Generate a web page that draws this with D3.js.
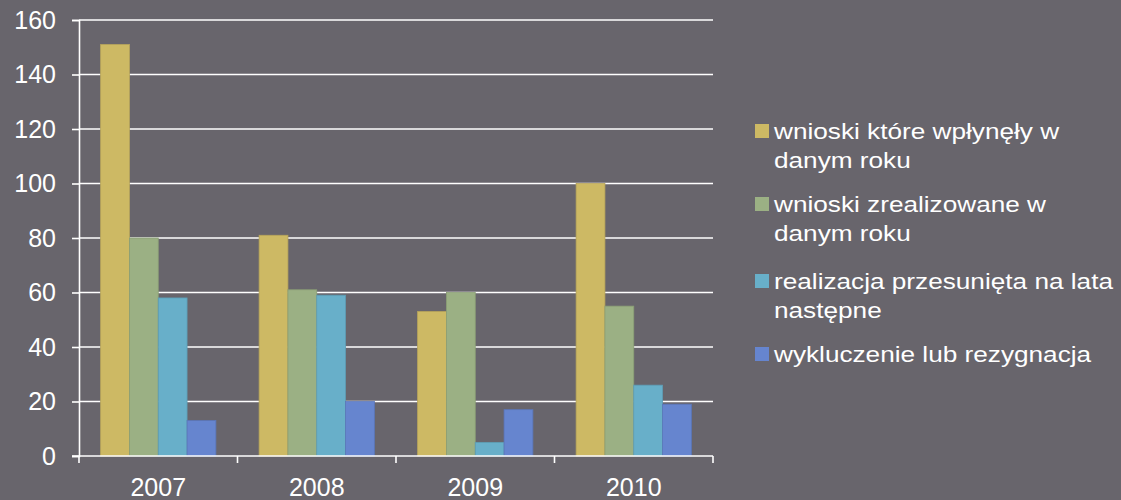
<!DOCTYPE html>
<meta charset="utf-8">
<script src="https://d3js.org/d3.v7.min.js"></script>
<style>
  html, body { margin: 0; padding: 0; background: #68656c; }
  text { font-family: "Liberation Sans", Arial, sans-serif; fill: #ffffff; }
</style>
<div id="my_dataviz"></div>
<script>

  // data
  var years = ["2007", "2008", "2009", "2010"]
  var seriesNames = [
    "wnioski które wpłynęły w danym roku",
    "wnioski zrealizowane w danym roku",
    "realizacja przesunięta na lata następne",
    "wykluczenie lub rezygnacja"
  ]
  // legend lines as wrapped in the picture
  var legendLines = [
    ["wnioski które wpłynęły w", "danym roku"],
    ["wnioski zrealizowane w", "danym roku"],
    ["realizacja przesunięta na lata", "następne"],
    ["wykluczenie lub rezygnacja"]
  ]
  var wplynely     = [151, 81, 53, 100]
  var zrealizowane = [80, 61, 60, 55]
  var przesuniete  = [58, 59, 5, 26]
  var wykluczone   = [13, 20, 17, 19]
  var yTicks = [0, 20, 40, 60, 80, 100, 120, 140, 160]

  var colors = ["#cdb964", "#9bb084", "#68afc9", "#6685cf"]
  var strokes = ["#b8a55a", "#8a9e75", "#5d9db4", "#5b77ba"]

  var data = years.map(function(y, i) {
    return {year: y, values: [wplynely[i], zrealizowane[i], przesuniete[i], wykluczone[i]]}
  })

  var margin = {top: 20, right: 408, bottom: 44, left: 79},
      width = 1121 - margin.left - margin.right,
      height = 500 - margin.top - margin.bottom

  var svg = d3.select("#my_dataviz")
    .append("svg")
      .attr("width", 1121)
      .attr("height", 500)
  svg.append("rect").attr("width", 1121).attr("height", 500).attr("fill", "#68656c")

  var g = svg.append("g")
      .attr("transform", "translate(" + margin.left + "," + margin.top + ")")

  // X scale: 150% gap between groups like the spreadsheet default
  var x = d3.scaleBand()
    .domain(years)
    .range([0, width])
    .paddingInner(0)
    .paddingOuter(0)

  var gapFrac = 1.5 / 5.5
  var xSub = d3.scaleBand()
    .domain(d3.range(4))
    .range([x.bandwidth() * gapFrac / 2, x.bandwidth() * (1 - gapFrac / 2)])

  var y = d3.scaleLinear()
    .domain([0, 160])
    .range([height, 0])

  // gridlines
  g.append("g")
    .selectAll("line")
    .data(yTicks.slice(1))
    .enter()
    .append("line")
      .attr("x1", 0)
      .attr("x2", width)
      .attr("y1", function(d) { return y(d) })
      .attr("y2", function(d) { return y(d) })
      .attr("stroke", "#ffffff")
      .attr("stroke-width", 1.6)

  // bars
  var groups = g.selectAll(".grp")
    .data(data)
    .enter()
    .append("g")
      .attr("transform", function(d) { return "translate(" + x(d.year) + ",0)" })

  groups.selectAll("rect")
    .data(function(d) { return d.values })
    .enter()
    .append("rect")
      .attr("x", function(d, i) { return xSub(i) })
      .attr("y", function(d) { return y(d) })
      .attr("width", xSub.bandwidth())
      .attr("height", function(d) { return height - y(d) })
      .attr("fill", function(d, i) { return colors[i] })
      .attr("stroke", function(d, i) { return strokes[i] })
      .attr("stroke-width", 0.8)

  // Y axis
  var yAxis = g.append("g")
    .call(d3.axisLeft(y).tickValues(yTicks).tickSize(7).tickPadding(16))
  yAxis.select(".domain").attr("stroke", "#ffffff").attr("stroke-width", 1.6)
  yAxis.selectAll(".tick line").attr("stroke", "#ffffff").attr("stroke-width", 1.6)
  yAxis.selectAll("text")
    .style("font-size", "25px")
    .attr("fill", "#ffffff")
    .style("font-family", "'Liberation Sans', Arial, sans-serif")

  // X axis, ticks at the category boundaries
  var xAxis = g.append("g")
    .attr("transform", "translate(0," + height + ")")
  xAxis.append("line")
    .attr("x1", -7).attr("x2", width)
    .attr("stroke", "#ffffff").attr("stroke-width", 1.6)
  xAxis.selectAll(".bt")
    .data(years.concat(["end"]))
    .enter()
    .append("line")
      .attr("x1", function(d, i) { return i * x.bandwidth() })
      .attr("x2", function(d, i) { return i * x.bandwidth() })
      .attr("y1", 0)
      .attr("y2", 7)
      .attr("stroke", "#ffffff").attr("stroke-width", 1.6)
  xAxis.selectAll(".lbl")
    .data(years)
    .enter()
    .append("text")
      .attr("x", function(d) { return x(d) + x.bandwidth() / 2 })
      .attr("y", 40)
      .attr("text-anchor", "middle")
      .style("font-size", "25px")
      .text(function(d) { return d })

  // legend (text is a bit wider than plain Arial in the picture)
  var legendBase = [139, 212, 289, 362]
  var legend = svg.append("g")
  legendLines.forEach(function(lines, i) {
    legend.append("rect")
      .attr("x", 755)
      .attr("y", legendBase[i] - 15)
      .attr("width", 14)
      .attr("height", 14)
      .attr("fill", colors[i])
    var t = legend.append("text")
      .attr("transform", "translate(774," + legendBase[i] + ") scale(1.19,1)")
      .style("font-size", "22px")
    t.append("title").text(seriesNames[i])
    lines.forEach(function(line, j) {
      t.append("tspan")
        .attr("x", 0)
        .attr("dy", j === 0 ? 0 : 29)
        .text(line)
    })
  })

</script>
